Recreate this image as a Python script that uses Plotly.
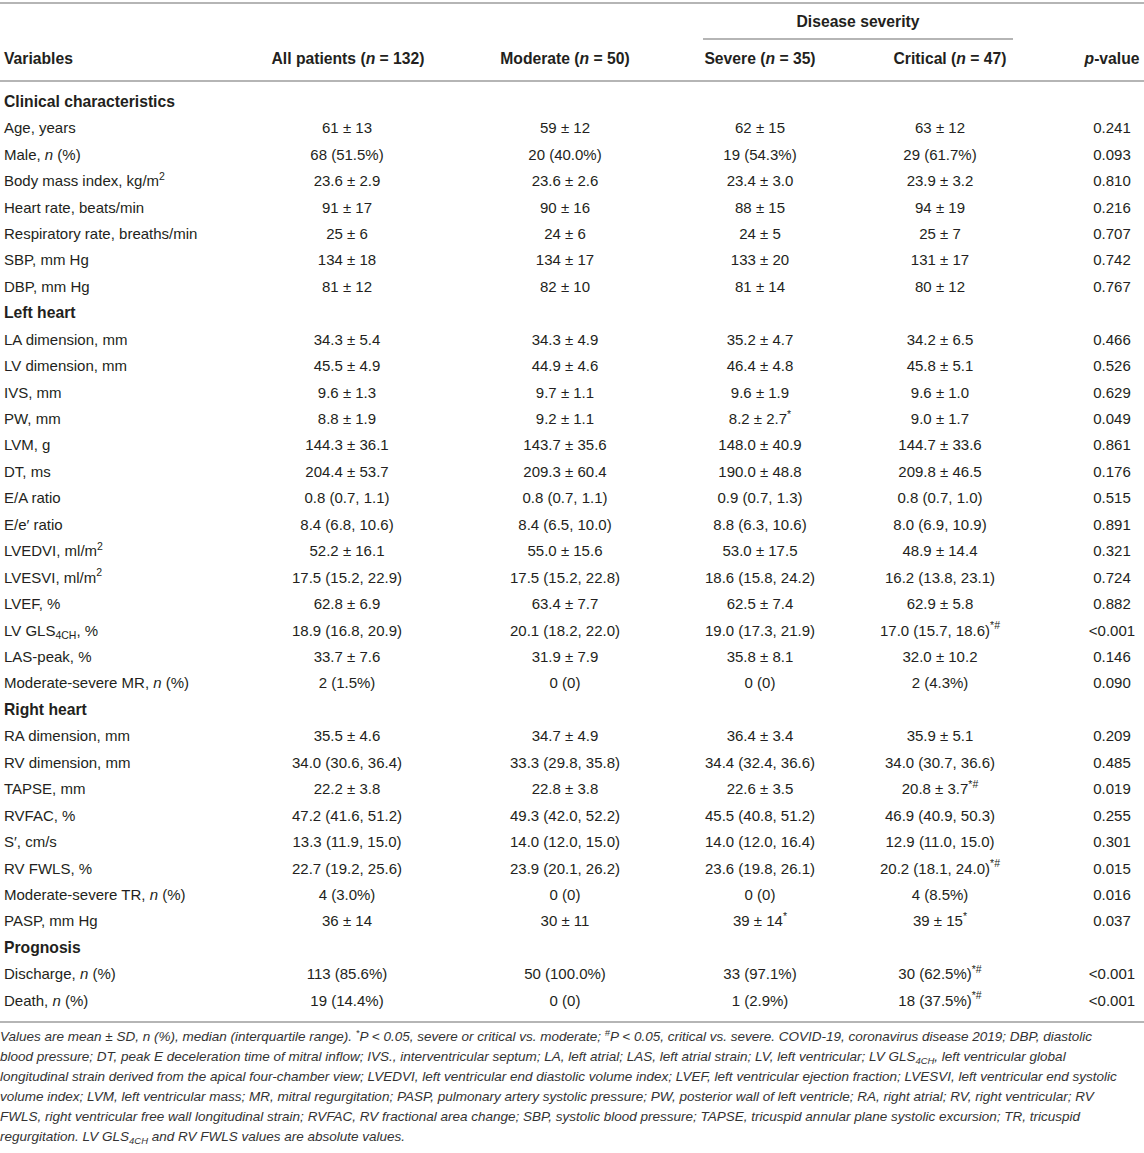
import plotly.graph_objects as go

# table content, row by row (section rows have empty values)
variables = [
    "Clinical characteristics",
    "Age, years", "Male, <i>n</i> (%)", "Body mass index, kg/m<sup>2</sup>",
    "Heart rate, beats/min", "Respiratory rate, breaths/min", "SBP, mm Hg", "DBP, mm Hg",
    "Left heart",
    "LA dimension, mm", "LV dimension, mm", "IVS, mm", "PW, mm", "LVM, g", "DT, ms",
    "E/A ratio", "E/e′ ratio", "LVEDVI, ml/m<sup>2</sup>", "LVESVI, ml/m<sup>2</sup>",
    "LVEF, %", "LV GLS<sub>4CH</sub>, %", "LAS-peak, %", "Moderate-severe MR, <i>n</i> (%)",
    "Right heart",
    "RA dimension, mm", "RV dimension, mm", "TAPSE, mm", "RVFAC, %", "S′, cm/s",
    "RV FWLS, %", "Moderate-severe TR, <i>n</i> (%)", "PASP, mm Hg",
    "Prognosis",
    "Discharge, <i>n</i> (%)", "Death, <i>n</i> (%)",
]
sections = ["Clinical characteristics", "Left heart", "Right heart", "Prognosis"]

all_patients = [
    "", "61 ± 13", "68 (51.5%)", "23.6 ± 2.9", "91 ± 17", "25 ± 6", "134 ± 18", "81 ± 12",
    "", "34.3 ± 5.4", "45.5 ± 4.9", "9.6 ± 1.3", "8.8 ± 1.9", "144.3 ± 36.1", "204.4 ± 53.7",
    "0.8 (0.7, 1.1)", "8.4 (6.8, 10.6)", "52.2 ± 16.1", "17.5 (15.2, 22.9)", "62.8 ± 6.9",
    "18.9 (16.8, 20.9)", "33.7 ± 7.6", "2 (1.5%)",
    "", "35.5 ± 4.6", "34.0 (30.6, 36.4)", "22.2 ± 3.8", "47.2 (41.6, 51.2)", "13.3 (11.9, 15.0)",
    "22.7 (19.2, 25.6)", "4 (3.0%)", "36 ± 14",
    "", "113 (85.6%)", "19 (14.4%)",
]
moderate = [
    "", "59 ± 12", "20 (40.0%)", "23.6 ± 2.6", "90 ± 16", "24 ± 6", "134 ± 17", "82 ± 10",
    "", "34.3 ± 4.9", "44.9 ± 4.6", "9.7 ± 1.1", "9.2 ± 1.1", "143.7 ± 35.6", "209.3 ± 60.4",
    "0.8 (0.7, 1.1)", "8.4 (6.5, 10.0)", "55.0 ± 15.6", "17.5 (15.2, 22.8)", "63.4 ± 7.7",
    "20.1 (18.2, 22.0)", "31.9 ± 7.9", "0 (0)",
    "", "34.7 ± 4.9", "33.3 (29.8, 35.8)", "22.8 ± 3.8", "49.3 (42.0, 52.2)", "14.0 (12.0, 15.0)",
    "23.9 (20.1, 26.2)", "0 (0)", "30 ± 11",
    "", "50 (100.0%)", "0 (0)",
]
severe = [
    "", "62 ± 15", "19 (54.3%)", "23.4 ± 3.0", "88 ± 15", "24 ± 5", "133 ± 20", "81 ± 14",
    "", "35.2 ± 4.7", "46.4 ± 4.8", "9.6 ± 1.9", "8.2 ± 2.7<sup>*</sup>", "148.0 ± 40.9", "190.0 ± 48.8",
    "0.9 (0.7, 1.3)", "8.8 (6.3, 10.6)", "53.0 ± 17.5", "18.6 (15.8, 24.2)", "62.5 ± 7.4",
    "19.0 (17.3, 21.9)", "35.8 ± 8.1", "0 (0)",
    "", "36.4 ± 3.4", "34.4 (32.4, 36.6)", "22.6 ± 3.5", "45.5 (40.8, 51.2)", "14.0 (12.0, 16.4)",
    "23.6 (19.8, 26.1)", "0 (0)", "39 ± 14<sup>*</sup>",
    "", "33 (97.1%)", "1 (2.9%)",
]
critical = [
    "", "63 ± 12", "29 (61.7%)", "23.9 ± 3.2", "94 ± 19", "25 ± 7", "131 ± 17", "80 ± 12",
    "", "34.2 ± 6.5", "45.8 ± 5.1", "9.6 ± 1.0", "9.0 ± 1.7", "144.7 ± 33.6", "209.8 ± 46.5",
    "0.8 (0.7, 1.0)", "8.0 (6.9, 10.9)", "48.9 ± 14.4", "16.2 (13.8, 23.1)", "62.9 ± 5.8",
    "17.0 (15.7, 18.6)<sup>*#</sup>", "32.0 ± 10.2", "2 (4.3%)",
    "", "35.9 ± 5.1", "34.0 (30.7, 36.6)", "20.8 ± 3.7<sup>*#</sup>", "46.9 (40.9, 50.3)",
    "12.9 (11.0, 15.0)", "20.2 (18.1, 24.0)<sup>*#</sup>", "4 (8.5%)", "39 ± 15<sup>*</sup>",
    "", "30 (62.5%)<sup>*#</sup>", "18 (37.5%)<sup>*#</sup>",
]
p_value = [
    "", "0.241", "0.093", "0.810", "0.216", "0.707", "0.742", "0.767",
    "", "0.466", "0.526", "0.629", "0.049", "0.861", "0.176", "0.515", "0.891", "0.321",
    "0.724", "0.882", "<0.001", "0.146", "0.090",
    "", "0.209", "0.485", "0.019", "0.255", "0.301", "0.015", "0.016", "0.037",
    "", "<0.001", "<0.001",
]

headers = ["Variables", "All patients (<i>n</i> = 132)", "Moderate (<i>n</i> = 50)",
           "Severe (<i>n</i> = 35)", "Critical (<i>n</i> = 47)", "<i>p</i>-value"]
group_header = "Disease severity"

footnote = [
    "Values are mean ± SD, n (%), median (interquartile range). <sup>*</sup>P < 0.05, severe or critical vs. moderate; "
    "<sup>#</sup>P < 0.05, critical vs. severe. COVID-19, coronavirus disease 2019; DBP, diastolic",
    "blood pressure; DT, peak E deceleration time of mitral inflow; IVS., interventricular septum; LA, left atrial; "
    "LAS, left atrial strain; LV, left ventricular; LV GLS<sub>4CH</sub>, left ventricular global",
    "longitudinal strain derived from the apical four-chamber view; LVEDVI, left ventricular end diastolic volume index; "
    "LVEF, left ventricular ejection fraction; LVESVI, left ventricular end systolic",
    "volume index; LVM, left ventricular mass; MR, mitral regurgitation; PASP, pulmonary artery systolic pressure; "
    "PW, posterior wall of left ventricle; RA, right atrial; RV, right ventricular; RV",
    "FWLS, right ventricular free wall longitudinal strain; RVFAC, RV fractional area change; SBP, systolic blood pressure; "
    "TAPSE, tricuspid annular plane systolic excursion; TR, tricuspid",
    "regurgitation. LV GLS<sub>4CH</sub> and RV FWLS values are absolute values.",
]

# layout: x in pixels, y in row units (row 0 = first section row)
W, H = 1144, 1153
ROW_H = 26.44
TOP = 103  # pixel of row 0
col_x = [4, 347, 565, 760, 940, 1112]
head_x = [4, 348, 565, 760, 950, 1112]


def py(pixel):
    return (pixel - TOP) / ROW_H


FONT = "Arial, 'Liberation Sans', sans-serif"
TXT = "#231f20"
RULE = "#b5b5b5"
HEAD_SIZE = 15.7

rows = list(range(len(variables)))
fig = go.Figure()

# first column: plain rows and bold section rows
plain = [i for i in rows if variables[i] not in sections]
bold = [i for i in rows if variables[i] in sections]
fig.add_scatter(x=[col_x[0]] * len(plain), y=plain, text=[variables[i] for i in plain],
                mode="text", textposition="middle right",
                textfont=dict(family=FONT, size=15, color=TXT))
fig.add_scatter(x=[col_x[0]] * len(bold), y=bold, text=["<b>%s</b>" % variables[i] for i in bold],
                mode="text", textposition="middle right",
                textfont=dict(family=FONT, size=HEAD_SIZE, color=TXT))

# value columns, skipping the empty cells of section rows
for cx, vals in zip(col_x[1:], [all_patients, moderate, severe, critical, p_value]):
    filled = [i for i in rows if vals[i]]
    fig.add_scatter(x=[cx] * len(filled), y=filled, text=[vals[i] for i in filled],
                    mode="text", textposition="middle center",
                    textfont=dict(family=FONT, size=15, color=TXT))

# header row
fig.add_scatter(x=head_x, y=[py(60)] * len(headers), text=["<b>%s</b>" % h for h in headers],
                mode="text",
                textposition=["middle right"] + ["middle center"] * 5,
                textfont=dict(family=FONT, size=HEAD_SIZE, color=TXT))
fig.add_scatter(x=[858], y=[py(23)], text=["<b>%s</b>" % group_header], mode="text",
                textposition="middle center",
                textfont=dict(family=FONT, size=HEAD_SIZE, color=TXT))

# footnote
fig.add_scatter(x=[0] * len(footnote), y=[py(1038 + 20 * i) for i in range(len(footnote))],
                text=["<i>%s</i>" % t for t in footnote], mode="text",
                textposition="middle right",
                textfont=dict(family=FONT, size=13.5, color="#333333"))

fig.update_traces(hoverinfo="skip", showlegend=False, cliponaxis=False)

# horizontal rules
for y, x0, x1 in [(3, 0, W), (39, 703, 1013), (81, 0, W), (1022, 0, W)]:
    fig.add_shape(type="line", xref="x", yref="y", x0=x0, x1=x1, y0=py(y), y1=py(y),
                  line=dict(color=RULE, width=2))

fig.update_layout(
    width=W, height=H,
    margin=dict(l=0, r=0, t=0, b=0),
    paper_bgcolor="white", plot_bgcolor="white",
    xaxis=dict(range=[0, W], visible=False, fixedrange=True),
    yaxis=dict(range=[py(H), py(0)], visible=False, fixedrange=True),
)

# drop the browser's default body margin so the table sits at the page corner
fig.write_html("out.html", config={"displayModeBar": False},
               post_script="document.body.style.margin='0';")
